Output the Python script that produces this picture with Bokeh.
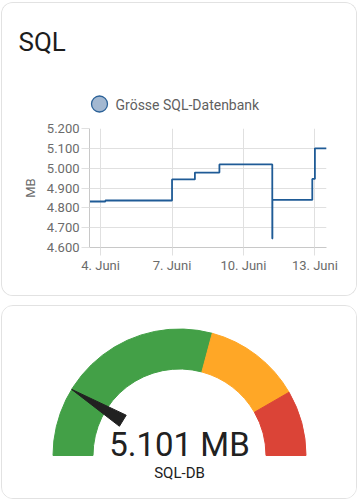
import math
from bokeh.plotting import figure
from bokeh.layouts import column
from bokeh.models import Range1d, FixedTicker
from bokeh.core.properties import value
from bokeh.embed import file_html
from bokeh.resources import INLINE

# ---------------- data ----------------
title_text = "SQL"
series_name = "Grösse SQL-Datenbank"
y_unit = "MB"
# time in days of June, size in MB (step chart)
days = [3.53, 4.20, 7.00, 7.96, 8.99, 11.21, 11.215, 12.89, 13.00, 13.49]
sizes = [4832, 4837, 4943, 4978, 5019, 4645, 4840, 4946, 5100, 5100]
x_ticks = [4, 7, 10, 13]
x_tick_labels = ["4. Juni", "7. Juni", "10. Juni", "13. Juni"]
y_ticks = [4600, 4700, 4800, 4900, 5000, 5100, 5200]
y_tick_labels = ["4.600", "4.700", "4.800", "4.900", "5.000", "5.100", "5.200"]

gauge_value = 5101
gauge_label = "5.101 MB"
gauge_name = "SQL-DB"
gauge_min = 3000
gauge_max = 15000
seg_starts = [3000, 10000, 13000]
seg_ends = [10000, 13000, 15000]
seg_colors = ["#43a047", "#ffa726", "#db4437"]

FONT = "Roboto"
LINE = "#1f5b96"
GRID = "#e0e0e0"
TICK_TXT = "#6b6b6b"
BORDER = "1px solid #e2e2e2"
BASE = {"box-sizing": "border-box", "overflow": "hidden"}

W = 356

# ---------------- header (title + legend) ----------------
HH = 116
head = figure(width=W, height=HH, output_backend="svg", toolbar_location=None,
              x_range=Range1d(0, W), y_range=Range1d(0, HH), min_border=0,
              frame_align=False,
              styles=dict(BASE, **{"border-top": BORDER, "border-left": BORDER,
                                   "border-right": BORDER,
                                   "border-top-left-radius": "12px",
                                   "border-top-right-radius": "12px"}))
head.axis.visible = False
head.grid.visible = False
head.outline_line_color = None
head.background_fill_color = "white"
head.border_fill_color = "white"
# page coordinates: x_d = px - 2, y_d = 119 - py
head.text(x=[16], y=[78], text=[title_text], text_font=value(FONT),
          text_font_size="26px", text_color="#1c1c1c", text_baseline="alphabetic")
head.scatter(x=[97], y=[15.5], size=16, marker="circle", fill_color="#a3b8d1",
             line_color="#2c6298", line_width=1.3)
head.text(x=[113], y=[15], text=[series_name], text_font=value(FONT),
          text_font_size="14px", text_color="#5f5f5f", text_baseline="alphabetic")

# ---------------- line chart ----------------
p = figure(width=W, height=178, output_backend="svg", toolbar_location=None,
           x_range=Range1d(3.534, 13.487), y_range=Range1d(4600, 5200),
           min_border_left=87, min_border_right=32, min_border_top=10, min_border_bottom=49,
           styles=dict(BASE, **{"border-bottom": BORDER, "border-left": BORDER,
                                "border-right": BORDER,
                                "border-bottom-left-radius": "12px",
                                "border-bottom-right-radius": "12px"}))
p.background_fill_color = "white"
p.border_fill_color = "white"
p.outline_line_color = None

p.step(days, sizes, mode="after", line_color=LINE, line_width=1.8)

p.xaxis.ticker = FixedTicker(ticks=x_ticks)
p.xaxis.major_label_overrides = {t: l for t, l in zip(x_ticks, x_tick_labels)}
p.yaxis.ticker = FixedTicker(ticks=y_ticks)
p.yaxis.major_label_overrides = {t: l for t, l in zip(y_ticks, y_tick_labels)}
p.yaxis.axis_label = y_unit
for ax in (p.xaxis, p.yaxis):
    ax.axis_line_color = "#c8c8c8"
    ax.major_tick_line_color = GRID
    ax.major_tick_in = 0
    ax.major_tick_out = 8
    ax.minor_tick_line_color = None
    ax.major_label_text_font = FONT
    ax.major_label_text_font_size = "13px"
    ax.major_label_text_color = TICK_TXT
    ax.major_label_standoff = 2
p.yaxis.axis_label_text_font = FONT
p.yaxis.axis_label_text_font_size = "13px"
p.yaxis.axis_label_text_font_style = "normal"
p.yaxis.axis_label_text_color = TICK_TXT
p.yaxis.axis_label_standoff = 6
p.xgrid.grid_line_color = GRID
p.ygrid.grid_line_color = GRID

# ---------------- gauge card ----------------
GH = 194
g = figure(width=W, height=GH, output_backend="svg", toolbar_location=None,
           x_range=Range1d(0, W), y_range=Range1d(0, GH), min_border=0,
           frame_align=False,
           styles=dict(BASE, **{"border": BORDER, "border-radius": "12px"}))
g.axis.visible = False
g.grid.visible = False
g.outline_line_color = None
g.background_fill_color = "white"
g.border_fill_color = "white"

# page coordinates: x_d = px - 2, y_d = 500 - py
cx, cy = 177, 45
r_in, r_out = 86.5, 126.5

def ang(v):
    return math.pi * (1 - (v - gauge_min) / (gauge_max - gauge_min))

g.annular_wedge(x=cx, y=cy, inner_radius=r_in, outer_radius=r_out,
                start_angle=[ang(e) for e in seg_ends],
                end_angle=[ang(s) for s in seg_starts],
                color=seg_colors, direction="anticlock")

th = ang(gauge_value)
r_base, r_tip, hw = 66.5, 126.5, 6.5
bx, by = cx + r_base * math.cos(th), cy + r_base * math.sin(th)
nx, ny = -math.sin(th), math.cos(th)
g.patch([bx + hw * nx, cx + r_tip * math.cos(th), bx - hw * nx],
        [by + hw * ny, cy + r_tip * math.sin(th), by - hw * ny],
        color="#212121")

g.text(x=[cx], y=[56], text=[gauge_label], text_font=value(FONT),
       text_font_size="33px", text_color="#212121", text_align="center",
       text_baseline="alphabetic")
g.text(x=[cx], y=[28], text=[gauge_name], text_font=value(FONT),
       text_font_size="15px", text_color="#212121", text_align="center",
       text_baseline="alphabetic")

layout = column(column(head, p, spacing=0), g, spacing=9)

html = file_html(layout, INLINE)
html = html.replace("</head>",
                    "<style>html,body{margin:0;padding:0;overflow:hidden;background:#fff}"
                    "body{padding:2px 0 0 1px}</style></head>", 1)
open("out.html", "w").write(html)
